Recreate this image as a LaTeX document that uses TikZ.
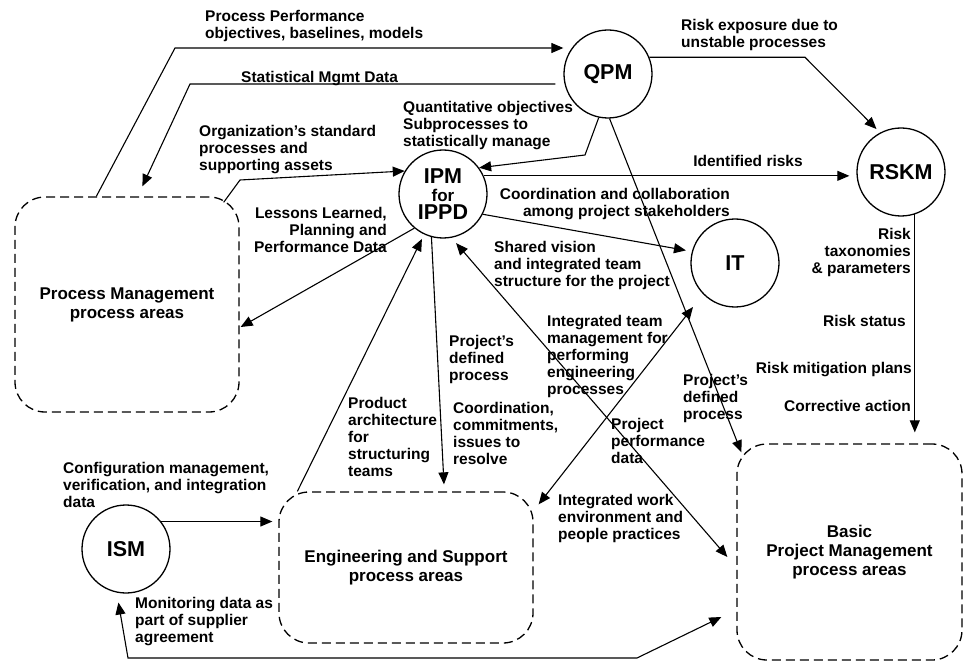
\documentclass[tikz,border=0pt]{standalone}
\usepackage{fontspec}
\setmainfont{Liberation Sans}
\usetikzlibrary{arrows.meta}
\begin{document}
\begin{tikzpicture}[x=1pt,y=-1pt,
  lbl/.style={font=\bfseries\fontsize{15.5}{17}\selectfont, inner sep=0pt},
  arr/.style={line width=1.1pt, -{Triangle[length=12pt,width=10pt]}},
  dbl/.style={line width=1.1pt, {Triangle[length=12pt,width=10pt]}-{Triangle[length=12pt,width=10pt]}},
  proc/.style={circle, draw, line width=1.3pt, minimum size=88pt, inner sep=0pt, font=\bfseries\fontsize{21.5}{18}\selectfont},
  area/.style={draw, dash pattern=on 9pt off 5pt, rounded corners=30pt, line width=1.3pt, inner sep=0pt, align=center, font=\bfseries\fontsize{17}{19}\selectfont}
]
\useasboundingbox (0,0) rectangle (967,663);

% process circles
\node[proc] (qpm) at (608,74) {QPM};
\node[proc] (rskm) at (901,172) {RSKM};
\node[proc, align=center] (ipm) at (443,194) {IPM\\{\fontsize{17}{18}\selectfont for}\\IPPD};
\node[proc] (it) at (735,263) {IT};
\node[proc] (ism) at (126,549) {ISM};

% process area boxes
\node[area, minimum width=224pt, minimum height=215pt] (pm) at (127,304.5) {Process Management\\process areas};
\node[area, minimum width=254pt, minimum height=151pt] (es) at (406,567.5) {Engineering and Support\\process areas};
\node[area, minimum width=225pt, minimum height=216pt] (bpm) at (849.5,552) {Basic\\Project Management\\process areas};

% labels
\node[lbl, anchor=north west, align=left] (t1) at (205,10) {Process Performance\\objectives, baselines, models};
\node[lbl, anchor=north west] (t2) at (241,71) {Statistical Mgmt Data};
\node[lbl, anchor=north west, align=left] (t3) at (199,125) {Organization’s standard\\processes and\\supporting assets};
\node[lbl, anchor=north west, align=left] (t4) at (403,101) {Quantitative objectives\\Subprocesses to\\statistically manage};
\node[lbl, anchor=north west, align=left] (t5) at (681,19) {Risk exposure due to\\unstable processes};
\node[lbl] (t6) at (748,161) {Identified risks};
\node[lbl, anchor=north east, align=right] (t7) at (730,188) {Coordination and collaboration\\among project stakeholders};
\node[lbl, anchor=north east, align=right] (t8) at (387,207) {Lessons Learned,\\Planning and\\Performance Data};
\node[lbl, anchor=north west, align=left] (t9) at (494,241) {Shared vision\\and integrated team\\structure for the project};
\node[lbl, anchor=north west, align=left] (t10) at (449,335) {Project’s\\defined\\process};
\node[lbl, anchor=north west, align=left] (t11) at (453,402) {Coordination,\\commitments,\\issues to\\resolve};
\node[lbl, anchor=north west, align=left] (t12) at (348,397) {Product\\architecture\\for\\structuring\\teams};
\node[lbl, anchor=north west, align=left] (t13) at (547,315) {Integrated team\\management for\\performing\\engineering\\processes};
\node[lbl, anchor=north west, align=left] (t14) at (683,374) {Project’s\\defined\\process};
\node[lbl, anchor=north west, align=left] (t15) at (611,418) {Project\\performance\\data};
\node[lbl, anchor=north west, align=left] (t16) at (558,494) {Integrated work\\environment and\\people practices};
\node[lbl, anchor=north west, align=left] (t17) at (63,462) {Configuration management,\\verification, and integration\\data};
\node[lbl, anchor=north west, align=left] (t18) at (135,597) {Monitoring data as\\part of supplier\\agreement};
\node[lbl, anchor=north east, align=right] (t19) at (911,228) {Risk\\taxonomies\\\& parameters};
\node[lbl, anchor=north east] (t20) at (906,315) {Risk status};
\node[lbl, anchor=north east] (t21) at (912,362) {Risk mitigation plans};
\node[lbl, anchor=north east] (t22) at (911,400) {Corrective action};

% bend points
\coordinate (b1) at (175,48);
\coordinate (b2) at (190,84);
\coordinate (b3) at (240,180);
\coordinate (b4) at (585,155);
\coordinate (b6) at (805,57);
\coordinate (b15a) at (128,658);
\coordinate (b15b) at (637,658);

% connectors
\draw[arr] ([xshift=82pt]pm.north west) -- (b1) -- (b1 -| qpm.west);
\draw[arr] ([shift={(-8,10)}]qpm.west) -- (b2) -- ([shift={(128,-10)}]pm.north west);
\draw[arr] ([shift={(-16,6)}]pm.north east) -- (b3) -- (ipm.149);
\draw[arr] (qpm.258) -- (b4) -- (ipm.36);
\draw[arr, shorten >=7pt] (ipm.24) -- (ipm.24 -| rskm.west);
\draw[arr, shorten >=5pt] (qpm.22) -- (qpm.22 -| b6) -- (rskm.118);
\draw[arr] (qpm.272) -- ([shift={(5,9)}]bpm.north west);
\draw[arr, shorten >=6pt] (ipm.-27) -- (it.165);
\draw[dbl, shorten <=7pt] (ipm.281) -- ([shift={(-9,5)}]bpm.west);
\draw[dbl] ([shift={(-42,44)}]it.center) -- ([shift={(5,13)}]es.north east);
\draw[arr] (ipm.255) -- ([shift={(38,-7)}]es.north);
\draw[arr, shorten >=5pt] ([xshift=19pt]es.north west) -- (ipm.245);
\draw[arr] (ipm.230) -- ([shift={(1,22.5)}]pm.east);
\draw[arr, shorten >=6pt] (ism.38) -- (ism.38 -| es.west);
\draw[dbl, shorten <=10pt] (ism.258) -- (b15a) -- (b15b) -- ([shift={(-15,65)}]bpm.west);
\draw[arr, shorten >=11pt] (rskm.288) -- (rskm.288 |- bpm.north);
\end{tikzpicture}
\end{document}
